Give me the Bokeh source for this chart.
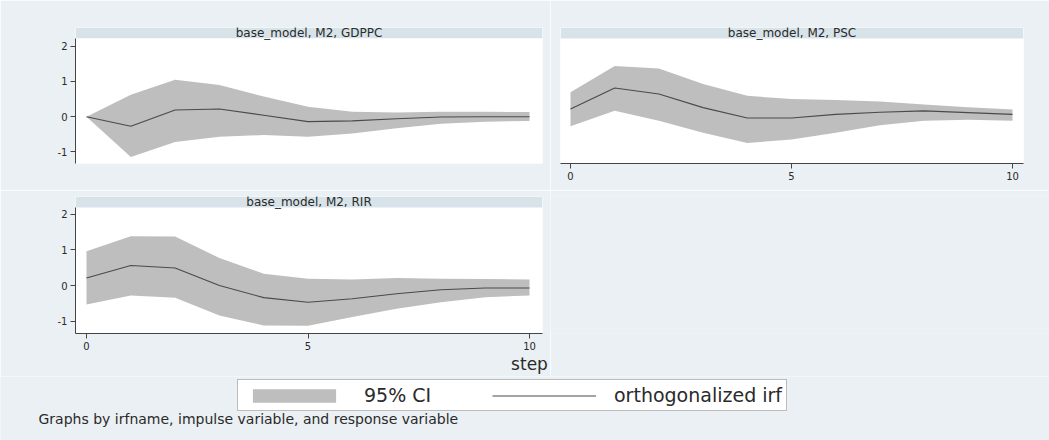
from bokeh.plotting import figure
from bokeh.layouts import column, row
from bokeh.models import (Range1d, FixedTicker, Label, Legend, LegendItem,
                          ColumnDataSource, LinearAxis)
from bokeh.core.properties import value
from bokeh.embed import file_html
from bokeh.resources import INLINE

# ---------------- data ----------------
steps = [0, 1, 2, 3, 4, 5, 6, 7, 8, 9, 10]

gdppc_irf   = [0.00, -0.27, 0.19, 0.22, 0.04, -0.14, -0.12, -0.06, -0.01, 0.00, 0.00]
gdppc_upper = [0.00, 0.62, 1.05, 0.90, 0.57, 0.28, 0.14, 0.12, 0.14, 0.14, 0.13]
gdppc_lower = [0.00, -1.14, -0.72, -0.57, -0.52, -0.57, -0.48, -0.33, -0.20, -0.14, -0.12]

psc_irf   = [0.25, 0.84, 0.67, 0.29, 0.00, 0.00, 0.10, 0.16, 0.20, 0.15, 0.10]
psc_upper = [0.72, 1.45, 1.38, 0.95, 0.62, 0.53, 0.50, 0.46, 0.38, 0.30, 0.24]
psc_lower = [-0.23, 0.20, -0.08, -0.41, -0.70, -0.60, -0.41, -0.20, -0.08, -0.05, -0.08]

rir_irf   = [0.21, 0.56, 0.49, 0.00, -0.34, -0.47, -0.37, -0.23, -0.12, -0.07, -0.07]
rir_upper = [0.96, 1.38, 1.37, 0.77, 0.33, 0.19, 0.17, 0.21, 0.19, 0.18, 0.17]
rir_lower = [-0.53, -0.28, -0.34, -0.84, -1.12, -1.13, -0.88, -0.65, -0.47, -0.33, -0.28]

panel_titles = ["base_model, M2, GDPPC", "base_model, M2, PSC", "base_model, M2, RIR"]
y_ticks = [-1, 0, 1, 2]
y_tick_labels = ["-1", "0", "1", "2"]
x_ticks = [0, 5, 10]
x_tick_labels = ["0", "5", "10"]
legend_labels = ["95% CI", "orthogonalized irf"]
x_title = "step"
note = "Graphs by irfname, impulse variable, and response variable"

# ---------------- style ----------------
BG = "#EAF0F3"
STRIP = "#D7E3E9"
BAND = "#BEBEBE"
LINE = "#4a4a4a"
AXIS = "#454545"
TXT = "#2a2a2a"
FONT = "DejaVu Sans"


def style_axis(ax, size="10px"):
    ax.axis_line_color = AXIS
    ax.major_tick_line_color = AXIS
    ax.major_tick_out = 5
    ax.major_tick_in = 0
    ax.minor_tick_line_color = None
    ax.major_label_text_font = FONT
    ax.major_label_text_font_size = size
    ax.major_label_text_color = TXT
    ax.major_label_standoff = 3


def make_panel(title, irf, lower, upper, w, h, bl, br, bt, bb, xr, yr, strip_y,
               show_y, show_x):
    p = figure(width=w, height=h, x_range=Range1d(*xr), y_range=Range1d(*yr),
               output_backend="svg", toolbar_location=None,
               min_border_left=bl, min_border_right=br,
               min_border_top=bt, min_border_bottom=bb,
               x_axis_location="below" if show_x else None,
               y_axis_location="left" if show_y else None,
               background_fill_color="white", border_fill_color=BG,
               outline_line_color=None)
    p.grid.visible = False
    # title strip on top of the plot region
    p.quad(left=[xr[0]], right=[xr[1]], bottom=[strip_y], top=[yr[1]],
           fill_color=STRIP, line_color=None)
    p.text(x=[(xr[0] + xr[1]) / 2], y=[(strip_y + yr[1]) / 2], text=[title],
           text_align="center", text_baseline="middle",
           text_font=value(FONT), text_font_size="12px", text_color=TXT)
    src = ColumnDataSource(dict(step=steps, irf=irf, lo=lower, hi=upper))
    p.varea(x="step", y1="lo", y2="hi", source=src, fill_color=BAND, fill_alpha=1.0)
    p.line(x="step", y="irf", source=src, line_color=LINE, line_width=1.1)
    for ax in p.yaxis:
        ax.ticker = FixedTicker(ticks=y_ticks)
        ax.major_label_overrides = {t: l for t, l in zip(y_ticks, y_tick_labels)}
        ax.bounds = (yr[0], strip_y)
        style_axis(ax)
    for ax in p.xaxis:
        ax.ticker = FixedTicker(ticks=x_ticks)
        ax.major_label_overrides = {t: l for t, l in zip(x_ticks, x_tick_labels)}
        style_axis(ax)
    return p


# panel geometry (pixels) -> ranges
def ranges(frame_l, frame_r, x0px, x10px, frame_t, strip_b, frame_b, y0px, ppu):
    xs = (x10px - x0px) / 10.0
    xr = ((frame_l - x0px) / xs, 10 + (frame_r - x10px) / xs)
    yr = ((y0px - frame_b) / ppu, (y0px - frame_t) / ppu)
    sy = (y0px - strip_b) / ppu
    return xr, yr, sy


xrA, yrA, syA = ranges(75, 542, 86, 529, 27, 38, 165, 117.5, 35.8)
pA = make_panel(panel_titles[0], gdppc_irf, gdppc_lower, gdppc_upper,
                550, 190, 75, 8, 27, 25, xrA, yrA, syA, True, False)

xrB, yrB, syB = ranges(560, 1023, 570, 1012, 27, 38, 163, 117.5, 35.8)
pB = make_panel(panel_titles[1], psc_irf, psc_lower, psc_upper,
                499, 190, 10, 26, 27, 27, xrB, yrB, syB, False, True)

xrC, yrC, syC = ranges(75, 542, 86, 529, 196, 207, 333, 285, 35.7)
pC = make_panel(panel_titles[2], rir_irf, rir_lower, rir_upper,
                550, 186, 75, 8, 6, 43, xrC, yrC, syC, True, True)
# "step" title, set under the last tick like Stata places it
step_axis = LinearAxis(ticker=FixedTicker(ticks=[10]),
                       major_label_overrides={10: x_title})
step_axis.axis_line_color = None
step_axis.major_tick_line_color = None
step_axis.minor_tick_line_color = None
step_axis.major_tick_out = 0
step_axis.major_tick_in = 0
step_axis.major_label_standoff = 1
step_axis.major_label_text_font = FONT
step_axis.major_label_text_font_size = "17px"
step_axis.major_label_text_color = TXT
pC.add_layout(step_axis, "below")

pE = figure(width=499, height=186, output_backend="svg", toolbar_location=None,
            x_axis_location=None, y_axis_location=None, min_border=0,
            background_fill_color=BG, border_fill_color=BG, outline_line_color=None,
            x_range=Range1d(0, 1), y_range=Range1d(0, 1))
pE.grid.visible = False

# bottom strip: legend + note
pD = figure(width=1049, height=64, output_backend="svg", toolbar_location=None,
            x_axis_location=None, y_axis_location=None, min_border=0,
            background_fill_color=BG, border_fill_color=BG, outline_line_color=None,
            x_range=Range1d(0, 1049), y_range=Range1d(0, 64))
pD.grid.visible = False
# hidden renderers that only lend their look to the legend
rq = pD.varea(x=steps, y1=rir_lower, y2=rir_upper, fill_color=BAND, visible=False)
rl = pD.line(x=steps, y=rir_irf, line_color=LINE, line_width=1.2, visible=False)
leg = Legend(items=[LegendItem(label=legend_labels[0], renderers=[rq]),
                    LegendItem(label=legend_labels[1], renderers=[rl])],
             orientation="horizontal", location=(237, 29),
             glyph_width=104, glyph_height=17, label_standoff=18, spacing=22,
             label_width=106, padding=4, margin=0,
             border_line_color="#7a7a7a", border_line_width=1,
             background_fill_color="white", background_fill_alpha=1.0,
             label_text_font=FONT, label_text_font_size="19px",
             label_text_color=TXT, label_height=14, click_policy="none")
pD.add_layout(leg, "center")
pD.add_layout(Label(x=38, y=22, text=note, text_baseline="middle",
                    text_font=FONT, text_font_size="14px", text_color=TXT))

layout = column(row(pA, pB), row(pC, pE), pD)

open("out.html", "w").write(file_html(layout, INLINE))
